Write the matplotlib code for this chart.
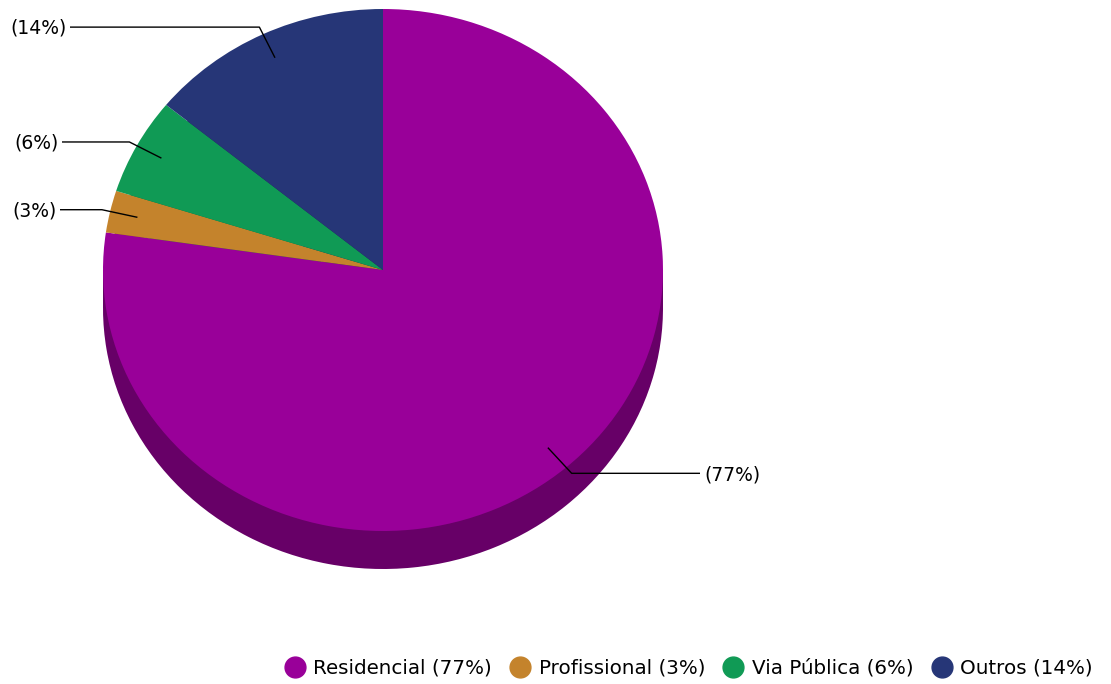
import numpy as np
import matplotlib
matplotlib.use("Agg")
import matplotlib.pyplot as plt
from matplotlib.patches import Rectangle
from matplotlib.lines import Line2D
import matplotlib.colors as mcolors

categories = ["Residencial", "Profissional", "Via Pública", "Outros"]
values = [77.3, 2.6, 6.0, 14.1]
pct_labels = ["(77%)", "(3%)", "(6%)", "(14%)"]
colors = ["#990099", "#c4832c", "#109a55", "#263677"]

W, H = 1111, 684
fig = plt.figure(figsize=(W / 100, H / 100), dpi=100)

# geometry in pixels
cx, cy, rx, ry, depth = 383, 270, 280, 261, 38
top_px = cy - ry
bot_px = cy + ry + depth
ax = fig.add_axes([(cx - rx) / W, 1 - bot_px / H, 2 * rx / W, (bot_px - top_px) / H])
d = depth / ry

def darken(c, f=0.67):
    r, g, b = mcolors.to_rgb(c)
    return (r * f, g * f, b * f)

dark = [darken(c) for c in colors]
ax.pie(values, colors=dark, startangle=90, counterclock=False, radius=1,
       center=(0, -d), wedgeprops=dict(linewidth=0), frame=True)
ax.add_patch(Rectangle((-1, -d), 2, d, facecolor=dark[0], edgecolor="none", zorder=1.5))
wedges, _ = ax.pie(values, colors=colors, startangle=90, counterclock=False, radius=1,
                   center=(0, 0), wedgeprops=dict(linewidth=0), frame=True)
for w in wedges:
    w.set_zorder(2)
ax.set_xlim(-1, 1)
ax.set_ylim(-1 - d, 1)
ax.set_aspect("auto")
ax.axis("off")

# leader lines and labels in figure pixel coords
ov = fig.add_axes([0, 0, 1, 1], facecolor="none")
ov.set_xlim(0, W)
ov.set_ylim(H, 0)
ov.axis("off")

total = sum(values)
cum = 0
label_x = {0: 700, 1: 60, 2: 62, 3: 70}
for i, v in enumerate(values):
    mid = cum + v / 2
    cum += v
    ang = np.deg2rad(90 - mid / total * 360)
    x1, y1 = cx + 0.9 * rx * np.cos(ang), cy - 0.9 * ry * np.sin(ang)
    x2, y2 = cx + 1.03 * rx * np.cos(ang), cy - 1.03 * ry * np.sin(ang)
    x3 = label_x[i]
    ov.plot([x1, x2, x3], [y1, y2, y2], color="black", lw=1, solid_capstyle="butt")
    if x3 > cx:
        ov.text(x3 + 4, y2 + 2, pct_labels[i], ha="left", va="center", fontsize=13.5)
    else:
        ov.text(x3 - 3, y2 + 1, pct_labels[i], ha="right", va="center", fontsize=13.5)

handles = [Line2D([], [], marker="o", linestyle="none", markersize=15,
                  markerfacecolor=c, markeredgecolor=c) for c in colors]
labels = [f"{c} {p}" for c, p in zip(categories, pct_labels)]
fig.legend(handles, labels, loc="center right", bbox_to_anchor=(1093 / W, 1 - 668 / H),
           ncol=4, frameon=False, fontsize=14.3, handletextpad=0.45, columnspacing=0.9,
           handlelength=1.0, borderaxespad=0, borderpad=0)

fig.savefig("out.png", dpi=100)
